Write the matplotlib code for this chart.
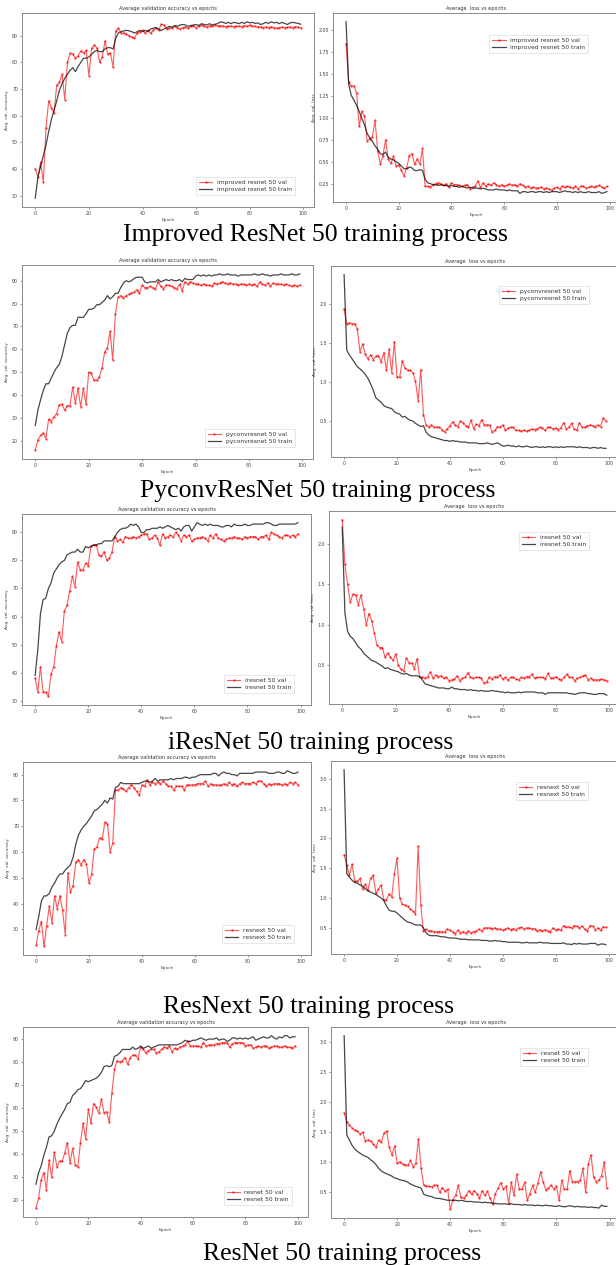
import matplotlib
matplotlib.use("Agg")
import matplotlib.pyplot as plt

epochs = list(range(100))

# ---------------- Improved ResNet 50 ----------------
imp_acc_val = [40, 37, 42.5, 35, 55.5, 65.5, 63, 61, 71.5, 72.5,
               75.5, 66, 80, 83.5, 83, 81.5, 82.5, 84.3, 83.5, 84.5,
               75, 85.2, 86.5, 85.5, 80, 82, 88, 83, 83.5, 78.3,
               91.9, 92.8, 91, 91, 90.5, 90, 89.5, 89, 91, 91.5,
               92, 91, 92, 91, 92, 93, 92, 94.3, 94, 92.5,
               93, 92.8, 93.5, 93, 92.5, 93, 93.2, 92.8, 93.5, 93.8,
               93, 93.5, 94, 93.5, 93.2, 93.8, 93.5, 94, 93.6, 93.8,
               93.5, 93.4, 93.6, 93.5, 93.4, 93.6, 93.5, 93.4, 93.8, 93.5,
               94, 93.6, 93.5, 93.2, 93.4, 93, 93.2, 93, 93.4, 93,
               92.8, 93, 93.2, 93, 93.2, 93.2, 93, 93.4, 93.2, 93]
imp_acc_tr = [29, 37, 41, 45, 49, 54, 58.5, 62, 65.5, 69.5,
              72, 74, 75.5, 77, 78, 76.5, 78.5, 80, 81.5, 81.5,
              82, 83, 84, 84.5, 84, 84, 85, 85.5, 85.5, 85,
              89, 91, 91.5, 91.8, 92, 91.8, 91.5, 91, 91.5, 92,
              91.5, 92, 91.5, 92.5, 92.8, 93, 92.5, 92, 92.5, 93,
              93.5, 93.2, 93.8, 93.5, 94, 94.2, 94, 93.5, 93.8, 94,
              94.2, 93.8, 94.5, 94.2, 94, 94.5, 94, 94.3, 94.5, 95.2,
              95, 94.6, 95, 94.5, 95, 94.8, 94.5, 95, 94.6, 95.2,
              94.8, 95, 94.6, 94.8, 94.2, 94.5, 95, 94.6, 95.2, 94.8,
              95, 94.5, 95, 94.6, 94.2, 94.8, 95, 94.8, 94.6, 94.3]
imp_loss_val = [1.84, 1.40, 1.36, 1.36, 1.28, 0.90, 1.07, 1.02, 0.74, 0.76,
                0.78, 0.97, 0.62, 0.47, 0.57, 0.75, 0.53, 0.48, 0.56, 0.45,
                0.46, 0.40, 0.34, 0.43, 0.57, 0.59, 0.47, 0.53, 0.47, 0.65,
                0.22, 0.22, 0.21, 0.24, 0.25, 0.26, 0.25, 0.23, 0.25, 0.21,
                0.26, 0.24, 0.24, 0.23, 0.22, 0.23, 0.24, 0.19, 0.21, 0.22,
                0.28, 0.21, 0.26, 0.22, 0.25, 0.23, 0.26, 0.24, 0.22, 0.24,
                0.22, 0.23, 0.25, 0.23, 0.24, 0.22, 0.25, 0.23, 0.21, 0.22,
                0.20, 0.21, 0.20, 0.20, 0.21, 0.19, 0.20, 0.19, 0.18, 0.20,
                0.21, 0.19, 0.22, 0.21, 0.22, 0.21, 0.20, 0.22, 0.19, 0.22,
                0.22, 0.20, 0.21, 0.22, 0.21, 0.22, 0.23, 0.21, 0.20, 0.22]
imp_loss_tr = [2.09, 1.38, 1.25, 1.20, 1.14, 1.07, 0.99, 0.92, 0.82, 0.77,
               0.73, 0.68, 0.64, 0.59, 0.58, 0.61, 0.55, 0.53, 0.52, 0.50,
               0.48, 0.45, 0.42, 0.42, 0.44, 0.43, 0.40, 0.40, 0.41, 0.40,
               0.30, 0.26, 0.25, 0.24, 0.24, 0.23, 0.24, 0.23, 0.23, 0.22,
               0.23, 0.22, 0.22, 0.21, 0.22, 0.21, 0.20, 0.21, 0.20, 0.20,
               0.20, 0.19, 0.20, 0.19, 0.18, 0.18, 0.18, 0.19, 0.18, 0.18,
               0.18, 0.17, 0.18, 0.17, 0.17, 0.17, 0.14, 0.16, 0.16, 0.15,
               0.16, 0.16, 0.15, 0.16, 0.16, 0.15, 0.16, 0.15, 0.16, 0.16,
               0.16, 0.15, 0.16, 0.17, 0.16, 0.16, 0.15, 0.16, 0.15, 0.16,
               0.15, 0.15, 0.16, 0.15, 0.15, 0.15, 0.16, 0.14, 0.15, 0.16]

# ---------------- PyconvResNet 50 ----------------
pyc_acc_val = [16, 20.5, 22.5, 23.5, 21, 29.5, 28.5, 30.5, 32, 35.8,
               36, 33.5, 35.5, 35.5, 43.5, 36.5, 43, 35, 43, 36,
               50, 49.5, 46.5, 46.5, 48, 52, 59, 60.5, 68, 55.5,
               75.5, 82.7, 83.5, 82.5, 83.5, 84, 84.5, 85, 86, 84.5,
               88, 87, 87, 87.5, 87, 86.5, 89.5, 87.5, 86.5, 88,
               88, 87.5, 87, 86.5, 88.5, 85.5, 89.5, 88.5, 89.5, 89,
               88.5, 88.5, 88, 88.5, 88, 88, 87.5, 89, 88.5, 89,
               89.5, 89, 88.5, 89, 88.5, 88.5, 88, 88.5, 88.5, 88,
               88.5, 88, 88.5, 87.5, 89.5, 88.5, 88, 89, 87.5, 89,
               88.5, 88.5, 88.5, 88, 88.5, 88, 87.5, 88, 87.5, 88]
pyc_acc_tr = [26.7, 33.5, 38, 42, 45, 45, 47.5, 50, 52, 53.5,
              57, 62, 67, 69.5, 70.5, 70.5, 74, 74, 74, 75.5,
              77.5, 77.5, 78, 79.5, 79.5, 80.5, 81.5, 83.5, 82, 83,
              84.5, 84.5, 87, 89, 90, 89.5, 90, 91, 91.5, 91.5,
              91.5, 89.5, 89, 89.5, 89.5, 89.5, 90.5, 89.5, 90, 90.5,
              90, 90.5, 90, 90, 90.5, 89.5, 91, 90.5, 90.5, 90.5,
              92, 92.5, 92, 92.5, 92, 92.5, 92, 92.5, 92.5, 93,
              92.5, 92.5, 93, 92.5, 92.5, 92.5, 92, 92.5, 92.5, 92.5,
              92.5, 92.5, 93, 92.5, 92.5, 93, 92.5, 92.5, 92, 92.5,
              92.5, 92.5, 93, 92.5, 92.5, 92.5, 93, 92.5, 92.5, 93]
pyc_loss_val = [1.94, 1.75, 1.76, 1.75, 1.75, 1.68, 1.39, 1.49, 1.36, 1.30,
                1.35, 1.29, 1.33, 1.34, 1.26, 1.38, 1.15, 1.42, 1.12, 1.52,
                1.07, 1.06, 1.27, 1.18, 1.15, 1.15, 1.12, 1.01, 0.76, 1.16,
                0.58, 0.45, 0.42, 0.45, 0.42, 0.42, 0.42, 0.39, 0.36, 0.40,
                0.44, 0.49, 0.45, 0.43, 0.50, 0.48, 0.44, 0.42, 0.51, 0.40,
                0.46, 0.44, 0.52, 0.45, 0.45, 0.45, 0.36, 0.38, 0.43, 0.42,
                0.45, 0.38, 0.41, 0.42, 0.42, 0.38, 0.38, 0.37, 0.38, 0.37,
                0.38, 0.40, 0.39, 0.40, 0.42, 0.41, 0.38, 0.42, 0.42, 0.40,
                0.41, 0.39, 0.41, 0.48, 0.40, 0.42, 0.47, 0.40, 0.38, 0.48,
                0.42, 0.42, 0.44, 0.45, 0.44, 0.43, 0.45, 0.43, 0.54, 0.50]
pyc_loss_tr = [2.38, 1.41, 1.35, 1.30, 1.25, 1.20, 1.17, 1.14, 1.10, 1.05,
               0.98, 0.90, 0.80, 0.77, 0.74, 0.70, 0.68, 0.67, 0.66, 0.62,
               0.60, 0.59, 0.55, 0.56, 0.53, 0.51, 0.50, 0.47, 0.45, 0.43,
               0.44, 0.36, 0.32, 0.30, 0.29, 0.28, 0.27, 0.26, 0.25, 0.25,
               0.24, 0.25, 0.24, 0.24, 0.23, 0.23, 0.23, 0.22, 0.22, 0.22,
               0.22, 0.21, 0.21, 0.21, 0.22, 0.21, 0.20, 0.21, 0.22, 0.20,
               0.18, 0.18, 0.19, 0.18, 0.18, 0.17, 0.18, 0.17, 0.17, 0.18,
               0.17, 0.16, 0.17, 0.17, 0.16, 0.17, 0.16, 0.17, 0.17, 0.16,
               0.17, 0.16, 0.17, 0.16, 0.17, 0.17, 0.17, 0.17, 0.16, 0.17,
               0.16, 0.16, 0.16, 0.15, 0.16, 0.16, 0.15, 0.16, 0.15, 0.15]

# ---------------- iResNet 50 ----------------
ires_acc_val = [38, 33, 42, 33, 33, 31.5, 39.5, 42, 49.5, 54.5,
                51, 62, 64, 69, 74.3, 70.7, 79.4, 76.7, 76.5, 79,
                78.2, 85, 85.6, 85.6, 82, 81.5, 83.2, 80, 80.8, 83.2,
                88.5, 87, 87.5, 86.5, 88.5, 88, 88, 88.5, 88, 88.5,
                89, 89.5, 89.5, 87.5, 88, 89, 88, 85.5, 89.5, 88,
                88.5, 89, 88.5, 90, 89, 87, 89, 88.5, 89, 87,
                87.5, 88, 88, 88.5, 88, 87, 89, 88, 89.5, 88,
                87.5, 87, 87.5, 88, 88, 88.5, 88, 88, 87.5, 88.5,
                88, 88.5, 88.5, 88.5, 87.5, 88.5, 88.5, 89, 87.5, 90,
                89.5, 89, 88.5, 88, 89, 89, 88.5, 89, 88.5, 89.5]
ires_acc_tr = [39, 48, 61, 66, 66.5, 70, 72, 75.5, 77, 78.5,
               79.5, 80, 82, 82.5, 83, 83, 84, 83, 83, 85,
               84.5, 85, 85.5, 85.5, 86, 86, 87, 87, 87, 87,
               88.5, 90, 91, 91.5, 91.5, 92, 93, 92.5, 93, 92,
               90, 90, 91, 91, 91.5, 91.5, 91.5, 92, 91.5, 92,
               92.5, 92, 91.5, 91, 91.5, 90.5, 92, 92.5, 92.5, 90.5,
               92, 93.5, 93, 92.5, 93, 92.5, 93, 92.5, 92.5, 92.5,
               92, 92, 92.5, 92.5, 92, 93, 92.5, 92.5, 92.5, 93,
               92.5, 92.5, 93, 93, 93, 93, 93, 93.5, 93.5, 93,
               92.5, 92.5, 93, 93, 93, 93, 93, 93, 93, 93.5]
ires_loss_val = [2.30, 1.75, 1.50, 1.28, 1.38, 1.37, 1.25, 1.37, 1.20, 1.00,
                 1.14, 1.05, 0.90, 0.75, 0.72, 0.72, 0.60, 0.65, 0.60, 0.56,
                 0.64, 0.50, 0.45, 0.43, 0.59, 0.53, 0.53, 0.46, 0.58, 0.35,
                 0.35, 0.34, 0.36, 0.42, 0.34, 0.38, 0.36, 0.37, 0.34, 0.35,
                 0.31, 0.32, 0.33, 0.37, 0.31, 0.34, 0.35, 0.41, 0.35, 0.34,
                 0.35, 0.35, 0.34, 0.28, 0.29, 0.35, 0.33, 0.36, 0.35, 0.38,
                 0.33, 0.35, 0.32, 0.35, 0.35, 0.33, 0.32, 0.35, 0.34, 0.36,
                 0.36, 0.39, 0.34, 0.35, 0.35, 0.35, 0.33, 0.40, 0.34, 0.34,
                 0.36, 0.33, 0.32, 0.35, 0.39, 0.35, 0.35, 0.31, 0.34, 0.35,
                 0.37, 0.38, 0.32, 0.34, 0.32, 0.32, 0.32, 0.33, 0.32, 0.31]
ires_loss_tr = [2.21, 1.15, 0.92, 0.86, 0.83, 0.78, 0.73, 0.70, 0.65, 0.62,
                0.59, 0.56, 0.55, 0.53, 0.51, 0.49, 0.46, 0.47, 0.45, 0.44,
                0.43, 0.42, 0.40, 0.39, 0.40, 0.38, 0.37, 0.37, 0.37, 0.36,
                0.32, 0.27, 0.26, 0.25, 0.24, 0.23, 0.22, 0.22, 0.22, 0.21,
                0.21, 0.23, 0.21, 0.21, 0.20, 0.20, 0.20, 0.19, 0.20, 0.19,
                0.19, 0.18, 0.19, 0.18, 0.18, 0.18, 0.19, 0.18, 0.18, 0.17,
                0.17, 0.16, 0.17, 0.16, 0.16, 0.16, 0.17, 0.16, 0.17, 0.17,
                0.17, 0.17, 0.17, 0.16, 0.16, 0.16, 0.14, 0.16, 0.16, 0.16,
                0.16, 0.16, 0.16, 0.16, 0.16, 0.15, 0.15, 0.14, 0.15, 0.16,
                0.16, 0.16, 0.15, 0.15, 0.14, 0.14, 0.15, 0.15, 0.15, 0.13]

# ---------------- ResNext 50 ----------------
resx_acc_val = [24, 29.5, 33, 23.5, 31.5, 39, 32.5, 43, 38, 43,
                37.5, 28, 52, 44.5, 47, 56, 57, 55, 57, 55.5,
                48, 51.5, 61, 62, 65.5, 65, 71.5, 71, 60, 63.5,
                84, 84, 85, 84.5, 83.5, 85, 86, 85, 83.5, 82,
                86, 85.5, 88, 86, 87, 86.5, 87, 86.5, 87.5, 86.5,
                85.5, 85.5, 84, 85.5, 85.5, 85.5, 84, 86, 86, 86,
                86, 86.5, 86.5, 86.5, 87.5, 85.5, 86.5, 86, 86, 86,
                86, 86.5, 86, 87, 86, 86.5, 85.5, 86.5, 87, 86.5,
                86.5, 86.5, 87, 86.5, 87.5, 87.5, 86.5, 85.5, 86.5, 86,
                86.5, 86.5, 86.5, 86, 86.5, 86, 87, 86.5, 87, 86]
resx_acc_tr = [30, 35, 41, 43, 43, 44, 46.5, 48, 50, 51.5,
               51.5, 53, 54, 55, 58, 63, 66.5, 68.5, 70, 71,
               72.5, 74, 76, 76.5, 77.5, 78.5, 80, 79, 81, 80.5,
               85, 85.5, 87, 86.5, 86.5, 86.5, 86.5, 86.5, 86.5, 86.5,
               87, 87.5, 87.5, 87, 87.5, 88.5, 87.5, 88, 88, 88,
               88, 88.5, 88, 88.5, 88.5, 88.5, 89, 89, 88.5, 89,
               89, 89.5, 90, 90, 90, 90, 90, 90.5, 90.5, 89.5,
               90.5, 91, 90.5, 90.5, 90, 90, 89.5, 90.5, 90.5, 90.5,
               90.5, 90.5, 90.5, 91, 91, 91, 91, 91, 90.5, 90.5,
               90.5, 91, 91, 90.5, 90.5, 91.5, 91, 90.5, 90.5, 91]
resx_loss_val = [1.73, 1.55, 1.38, 1.57, 1.28, 1.28, 1.33, 1.15, 1.23, 1.13,
                 1.33, 1.38, 1.08, 1.15, 1.22, 0.97, 0.97, 1.07, 1.02, 1.40,
                 1.67, 1.00, 0.90, 0.88, 0.86, 0.82, 0.78, 0.74, 1.87, 0.88,
                 0.45, 0.48, 0.45, 0.45, 0.44, 0.43, 0.44, 0.43, 0.43, 0.48,
                 0.46, 0.44, 0.40, 0.46, 0.42, 0.44, 0.41, 0.45, 0.41, 0.44,
                 0.45, 0.48, 0.45, 0.50, 0.50, 0.50, 0.49, 0.50, 0.48, 0.48,
                 0.46, 0.48, 0.50, 0.47, 0.49, 0.47, 0.50, 0.51, 0.48, 0.50,
                 0.50, 0.48, 0.49, 0.45, 0.47, 0.45, 0.47, 0.45, 0.44, 0.50,
                 0.46, 0.48, 0.46, 0.54, 0.51, 0.52, 0.50, 0.54, 0.53, 0.50,
                 0.53, 0.48, 0.45, 0.54, 0.53, 0.47, 0.50, 0.46, 0.52, 0.51]
resx_loss_tr = [3.15, 1.41, 1.35, 1.30, 1.26, 1.25, 1.22, 1.20, 1.16, 1.12,
                1.10, 1.08, 1.06, 1.03, 1.00, 0.96, 0.87, 0.80, 0.78, 0.78,
                0.75, 0.71, 0.67, 0.63, 0.60, 0.59, 0.57, 0.55, 0.55, 0.55,
                0.50, 0.42, 0.38, 0.37, 0.37, 0.37, 0.36, 0.35, 0.35, 0.34,
                0.33, 0.33, 0.33, 0.32, 0.31, 0.31, 0.31, 0.30, 0.30, 0.30,
                0.30, 0.30, 0.29, 0.29, 0.29, 0.28, 0.28, 0.29, 0.28, 0.28,
                0.27, 0.27, 0.26, 0.26, 0.26, 0.26, 0.26, 0.25, 0.25, 0.26,
                0.25, 0.25, 0.25, 0.25, 0.26, 0.25, 0.25, 0.25, 0.24, 0.24,
                0.24, 0.24, 0.24, 0.25, 0.23, 0.23, 0.22, 0.24, 0.23, 0.24,
                0.23, 0.23, 0.23, 0.24, 0.24, 0.24, 0.21, 0.23, 0.23, 0.22]

# ---------------- ResNet 50 ----------------
res_acc_val = [16.5, 21, 29, 32, 24.5, 37.5, 30, 41, 34.5, 37,
               37, 40.5, 45, 36, 42.5, 35.5, 34.5, 45, 53.5, 46.5,
               59.5, 53.5, 62, 60.5, 58, 64, 58, 58.5, 54, 66.5,
               77, 80.5, 80, 80.5, 82, 79, 82, 83, 83, 81.5,
               86.5, 85.5, 84, 85, 85.5, 85.5, 84, 84.5, 85.5, 86.5,
               86, 87, 84.5, 86, 85.5, 86.5, 87, 87.5, 89, 87,
               87, 87, 87, 86.5, 88.5, 87, 87.5, 87.5, 87.5, 88,
               88, 88.5, 88.5, 88.5, 86.5, 88, 88.5, 88.5, 88.5, 88.5,
               87, 87.5, 87.5, 86, 86.5, 87, 86.5, 87, 87, 86,
               86.5, 87, 87, 86.5, 86.5, 87, 86.5, 86.5, 86, 87]
res_acc_tr = [27, 32, 35, 39.5, 43, 47.5, 48, 50, 53, 55.5,
              57.5, 59.5, 62, 62.5, 65.5, 66.5, 68, 68.5, 70, 72,
              71.5, 72, 72.5, 73, 74, 75.5, 78, 78.5, 78, 78.5,
              82.5, 83, 84, 85.5, 85.5, 85.5, 85.5, 86.5, 85.5, 86,
              87, 86, 86.5, 87, 86, 86.5, 87, 87.5, 87.5, 87.5,
              87.5, 87.5, 87.5, 87.5, 87.5, 88, 88.5, 89.5, 89, 89,
              89.5, 89.5, 90, 90.5, 90, 89.5, 90, 90, 90, 90.5,
              89.5, 90, 90, 89, 89.5, 90.5, 90.5, 90, 90.5, 90,
              90.5, 90, 90.5, 91, 89.5, 90, 90.5, 91, 90.5, 90.5,
              91.5, 90.5, 90, 91, 90.5, 91.5, 91.5, 90.5, 91, 91]
res_loss_val = [1.82, 1.67, 1.62, 1.57, 1.53, 1.52, 1.47, 1.50, 1.35, 1.37,
                1.35, 1.30, 1.25, 1.37, 1.33, 1.48, 1.52, 1.25, 1.12, 1.27,
                0.98, 1.01, 0.97, 0.96, 0.95, 1.03, 0.92, 0.98, 1.39, 0.90,
                0.62, 0.60, 0.60, 0.59, 0.62, 0.62, 0.50, 0.58, 0.52, 0.55,
                0.22, 0.38, 0.45, 0.62, 0.42, 0.40, 0.45, 0.53, 0.47, 0.53,
                0.48, 0.40, 0.53, 0.45, 0.52, 0.40, 0.30, 0.48, 0.57, 0.66,
                0.55, 0.60, 0.32, 0.67, 0.45, 0.80, 0.55, 0.55, 0.67, 0.37,
                0.48, 0.62, 0.50, 0.65, 0.84, 0.67, 0.54, 0.57, 0.62, 0.56,
                0.60, 0.37, 0.70, 0.55, 0.55, 0.86, 0.68, 0.68, 0.68, 0.70,
                0.90, 0.50, 0.97, 1.12, 0.75, 0.68, 0.70, 0.78, 1.00, 0.57]
res_loss_tr = [3.10, 1.45, 1.37, 1.28, 1.22, 1.18, 1.15, 1.12, 1.10, 1.08,
               1.04, 1.01, 0.96, 0.90, 0.86, 0.83, 0.81, 0.79, 0.77, 0.74,
               0.73, 0.71, 0.70, 0.69, 0.67, 0.64, 0.62, 0.60, 0.59, 0.57,
               0.47, 0.45, 0.44, 0.43, 0.41, 0.40, 0.40, 0.39, 0.38, 0.37,
               0.37, 0.37, 0.37, 0.36, 0.37, 0.36, 0.35, 0.35, 0.35, 0.34,
               0.34, 0.34, 0.33, 0.34, 0.33, 0.33, 0.32, 0.32, 0.31, 0.31,
               0.31, 0.31, 0.30, 0.31, 0.30, 0.30, 0.30, 0.29, 0.30, 0.29,
               0.29, 0.29, 0.28, 0.29, 0.28, 0.28, 0.29, 0.28, 0.28, 0.27,
               0.27, 0.28, 0.27, 0.26, 0.27, 0.28, 0.27, 0.26, 0.27, 0.26,
               0.26, 0.26, 0.25, 0.26, 0.25, 0.25, 0.24, 0.29, 0.27, 0.27]

model_names = ["improved resnet", "pyconvresnet", "iresnet", "resnext", "resnet"]
captions = ["Improved ResNet 50 training process",
            "PyconvResNet 50 training process",
            "iResNet 50 training process",
            "ResNext 50 training process",
            "ResNet 50 training process"]

x_ticks = [0, 20, 40, 60, 80, 100]
acc_ticks = [[30, 40, 50, 60, 70, 80, 90],
             [20, 30, 40, 50, 60, 70, 80, 90],
             [30, 40, 50, 60, 70, 80, 90],
             [30, 40, 50, 60, 70, 80, 90],
             [20, 30, 40, 50, 60, 70, 80, 90]]
loss_ticks = [[0.25, 0.50, 0.75, 1.00, 1.25, 1.50, 1.75, 2.00],
              [0.5, 1.0, 1.5, 2.0],
              [0.5, 1.0, 1.5, 2.0],
              [0.5, 1.0, 1.5, 2.0, 2.5, 3.0],
              [0.5, 1.0, 1.5, 2.0, 2.5, 3.0]]
loss_fmt = ["%.2f", "%.1f", "%.1f", "%.1f", "%.1f"]

acc_series = [(imp_acc_val, imp_acc_tr), (pyc_acc_val, pyc_acc_tr),
              (ires_acc_val, ires_acc_tr), (resx_acc_val, resx_acc_tr),
              (res_acc_val, res_acc_tr)]
loss_series = [(imp_loss_val, imp_loss_tr), (pyc_loss_val, pyc_loss_tr),
               (ires_loss_val, ires_loss_tr), (resx_loss_val, resx_loss_tr),
               (res_loss_val, res_loss_tr)]

# ---------------- layout (pixel boxes: left, top, right, bottom) ----------------
W, H = 616, 1265
acc_boxes = [(22, 13, 314, 207), (22, 265, 313, 459), (22, 514, 311, 705),
             (23, 762, 311, 955), (23, 1027, 308, 1217)]
loss_boxes = [(333, 13, 620, 202), (331, 266, 619, 457), (329, 511, 620, 704),
              (331, 761, 619, 954), (331, 1027, 620, 1218)]
acc_leg = [(0.945, 0.046), (0.948, 0.046), (0.952, 0.047), (0.951, 0.047), (0.954, 0.047)]
loss_leg = [(0.90, 0.90), (0.906, 0.911), (0.904, 0.907), (0.903, 0.907), (0.90, 0.906)]
caption_pos = [(123, 241), (140, 497), (168, 749), (163, 1013), (203, 1260)]

fig = plt.figure(figsize=(W / 100, H / 100), dpi=100)
fig.patch.set_facecolor("white")

SMALL = 3.4
SPINE = "#8a8a8a"


def make_axes(box):
    l, t, r, b = box
    return fig.add_axes([l / W, 1 - b / H, (r - l) / W, (b - t) / H])


def style(ax):
    for s in ax.spines.values():
        s.set_color(SPINE)
        s.set_linewidth(0.7)
    ax.tick_params(labelsize=SMALL, length=1.6, width=0.4, pad=1.2,
                   colors="#444444")
    ax.set_xticks(x_ticks)


def draw(ax, val, tr, name, title, ylabel, legend_loc, anchor):
    ax.plot(epochs, val, color="red", alpha=0.65, lw=0.8, marker=".",
            markersize=1.4, label=name + " 50 val")
    ax.plot(epochs, tr, color="black", alpha=0.72, lw=0.9,
            label=name + " 50 train")
    ax.set_title(title, fontsize=3.6, pad=2, color="#333333")
    ax.set_xlabel("Epoch", fontsize=3.2, labelpad=1.5, color="#444444")
    ax.set_ylabel(ylabel, fontsize=3.2, labelpad=2, color="#444444")
    leg = ax.legend(loc=legend_loc, bbox_to_anchor=anchor, fontsize=4.3,
                    handlelength=2.2, borderpad=0.5, labelspacing=0.35,
                    fancybox=False, framealpha=1.0, edgecolor="#dddddd")
    leg.get_frame().set_linewidth(0.5)
    for txt in leg.get_texts():
        txt.set_color("#333333")


for i in range(5):
    ax = make_axes(acc_boxes[i])
    style(ax)
    draw(ax, acc_series[i][0], acc_series[i][1], model_names[i],
         "Average validation accuracy vs epochs", "Avg. val. accuracy",
         "lower right", acc_leg[i])
    ax.set_yticks(acc_ticks[i])

    ax = make_axes(loss_boxes[i])
    style(ax)
    draw(ax, loss_series[i][0], loss_series[i][1], model_names[i],
         "Average  loss vs epochs", "Avg. val. loss",
         "upper right", loss_leg[i])
    ax.set_yticks(loss_ticks[i])
    ax.yaxis.set_major_formatter(matplotlib.ticker.FormatStrFormatter(loss_fmt[i]))

for (cx, cy), text in zip(caption_pos, captions):
    fig.text(cx / W, 1 - cy / H, text, ha="left", va="baseline",
             fontsize=18.5, family="Liberation Serif", color="black")

fig.savefig("out.png", dpi=100, facecolor="white")
